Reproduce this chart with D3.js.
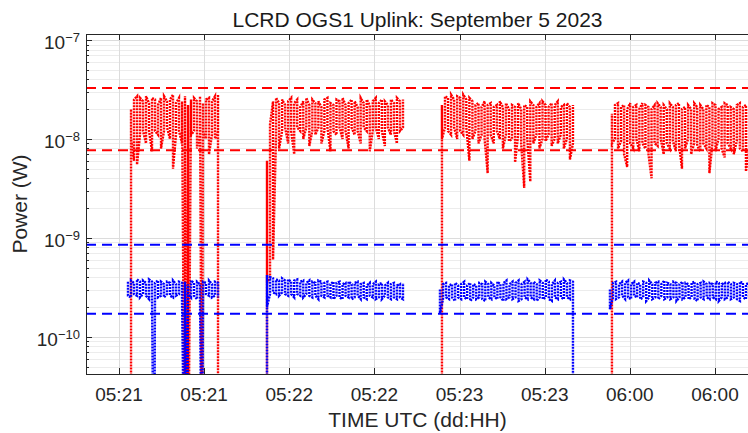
<!DOCTYPE html>
<html>
<head>
<meta charset="utf-8">
<script src="https://cdn.jsdelivr.net/npm/d3@7"></script>
<style>
body { margin: 0; background: #fff; }
svg text { font-family: Arial, "Liberation Sans", sans-serif; fill: #262626; }
</style>
</head>
<body>
<div id="chart"></div>
<script>
// all power values are in nW (1e-9 W)
var FLOOR = 0.001; // signal lost, below the axis

// segment start / end times (UTC)
var redStart  = ["2023-09-05T21:04:14Z", "2023-09-05T21:52:09Z", "2023-09-05T22:53:48Z", "2023-09-05T23:53:42Z"];
var redEnd    = ["2023-09-05T21:34:53Z", "2023-09-05T22:40:04Z", "2023-09-05T23:39:58Z", "2023-09-06T00:42:00Z"];
var blueStart = ["2023-09-05T21:03:10Z", "2023-09-05T21:52:09Z", "2023-09-05T22:53:06Z", "2023-09-05T23:53:00Z"];
var blueEnd   = ["2023-09-05T21:34:53Z", "2023-09-05T22:40:04Z", "2023-09-05T23:39:58Z", "2023-09-06T00:42:00Z"];

// does the trace come up from / fall down to zero at segment start / end
var redFromFloor  = [true, true, true, true];
var redToFloor    = [true, false, false, false];
var blueFromFloor = [false, true, false, false];
var blueToFloor   = [false, false, true, false];

// short dropouts inside a segment
var redDrops  = ["2023-09-05T21:23:15Z", "2023-09-05T21:23:47Z", "2023-09-05T21:24:19Z", "2023-09-05T21:29:15Z"];
var blueDrops = ["2023-09-05T21:12:20Z", "2023-09-05T21:23:15Z", "2023-09-05T21:24:00Z", "2023-09-05T21:29:15Z"];

// per-bin max / min of the red (higher) trace
var redMax1 = [20, 25, 27, 26, 24, 27, 23, 26, 25, 22, 26, 27, 24, 25, 28, 23, 26, 24, 27, 22, 25, 26, 24, 27, 23, 25, 26, 24, 27, 28];
var redMin1 = [10, 6, 5.5, 11, 12, 9, 12, 7.5, 12, 11, 8, 12, 13, 10, 5, 11, 12, 9, 12, 6.5, 11, 12, 8, 11, 12, 10, 7, 11, 10, 12];
var redMax2 = [6, 14, 24, 26, 23, 25, 22, 24, 26, 23, 25, 21, 24, 26, 22, 25, 23, 24, 21, 25, 26, 23, 22, 25, 24, 26, 22, 23, 25, 24, 21, 26, 23, 25, 22, 24, 26, 23, 25, 24, 22, 25, 23, 26, 24, 25];
var redMin2 = [0.35, 0.4, 0.6, 11, 8, 12, 13, 9, 12, 7, 13, 12, 10, 13, 8.5, 12, 11, 13, 9, 12, 13, 7.5, 12, 11, 13, 10, 12, 8, 13, 11, 12, 9, 13, 12, 7.5, 12, 13, 10, 12, 8.5, 13, 11, 12, 9, 12, 13];
var redMax3 = [22, 27, 26, 28, 25, 27, 26, 28, 25, 26, 24, 22, 23, 21, 24, 22, 23, 21, 22, 24, 21, 23, 20, 22, 21, 23, 20, 22, 21, 24, 22, 21, 23, 24, 22, 21, 23, 22, 24, 21, 22, 23, 21, 22];
var redMin3 = [10, 13, 12, 11, 13, 10, 12, 11, 13, 6, 10, 12, 9, 11, 10, 4.5, 11, 9, 12, 10, 8, 11, 9.5, 10, 5.8, 11, 9, 3.2, 10, 3.7, 9, 11, 8, 10, 9.5, 11, 8.5, 10, 9, 11, 8, 10, 6.2, 9];
var redMax4 = [18, 22, 23, 21, 22, 20, 23, 21, 22, 20, 23, 22, 21, 20, 22, 23, 21, 22, 20, 23, 21, 22, 23, 20, 21, 22, 20, 23, 21, 22, 20, 22, 21, 23, 22, 20, 21, 23, 22, 21, 20, 22, 23, 21, 22, 20];
var redMin4 = [9, 10, 8, 9.5, 7, 5.2, 9, 8, 10, 7.5, 9, 8, 7, 4.0, 9, 8.5, 10, 7, 9, 8, 9.5, 7.5, 9, 5, 8, 10, 7, 9, 8.5, 7.5, 9, 8, 4.5, 9, 7.5, 10, 8, 6.5, 9, 8, 7, 9.5, 8, 7.5, 4.7, 8];

// per-bin max / min of the blue (lower) trace
var blueMax1 = [0.36, 0.37, 0.35, 0.38, 0.36, 0.37, 0.35, 0.38, 0.36, 0.35, 0.37, 0.36, 0.34, 0.36, 0.35, 0.37, 0.34, 0.36, 0.35, 0.36, 0.34, 0.37, 0.35, 0.36, 0.34, 0.36, 0.35, 0.37, 0.34, 0.36, 0.35];
var blueMin1 = [0.26, 0.25, 0.27, 0.26, 0.25, 0.27, 0.26, 0.24, 0.26, 0.27, 0.25, 0.26, 0.25, 0.27, 0.26, 0.25, 0.26, 0.27, 0.25, 0.26, 0.27, 0.25, 0.26, 0.24, 0.26, 0.25, 0.27, 0.26, 0.25, 0.26, 0.25];
var blueMax2 = [0.42, 0.4, 0.39, 0.38, 0.37, 0.39, 0.37, 0.38, 0.36, 0.37, 0.38, 0.36, 0.37, 0.35, 0.37, 0.36, 0.35, 0.37, 0.36, 0.35, 0.36, 0.34, 0.36, 0.35, 0.36, 0.34, 0.35, 0.36, 0.34, 0.35, 0.36, 0.34, 0.35, 0.33, 0.35, 0.34, 0.36, 0.34, 0.35, 0.33, 0.35, 0.34, 0.35, 0.33, 0.34, 0.35];
var blueMin2 = [0.2, 0.27, 0.28, 0.27, 0.26, 0.28, 0.27, 0.26, 0.27, 0.25, 0.27, 0.26, 0.25, 0.27, 0.26, 0.25, 0.26, 0.24, 0.26, 0.25, 0.26, 0.25, 0.24, 0.26, 0.25, 0.24, 0.26, 0.25, 0.24, 0.25, 0.26, 0.24, 0.25, 0.24, 0.26, 0.25, 0.24, 0.25, 0.24, 0.26, 0.25, 0.24, 0.25, 0.24, 0.25, 0.24];
var blueMax3 = [0.3, 0.34, 0.35, 0.33, 0.34, 0.35, 0.33, 0.34, 0.36, 0.33, 0.35, 0.34, 0.33, 0.35, 0.34, 0.36, 0.34, 0.35, 0.33, 0.36, 0.34, 0.35, 0.37, 0.34, 0.36, 0.35, 0.37, 0.34, 0.36, 0.38, 0.35, 0.36, 0.34, 0.37, 0.35, 0.38, 0.36, 0.34, 0.37, 0.35, 0.36, 0.38, 0.35, 0.37, 0.36];
var blueMin3 = [0.17, 0.24, 0.25, 0.24, 0.25, 0.23, 0.25, 0.24, 0.25, 0.24, 0.23, 0.25, 0.24, 0.25, 0.24, 0.23, 0.25, 0.24, 0.25, 0.24, 0.25, 0.23, 0.24, 0.25, 0.24, 0.25, 0.23, 0.24, 0.25, 0.24, 0.25, 0.24, 0.23, 0.25, 0.24, 0.25, 0.24, 0.23, 0.25, 0.24, 0.25, 0.24, 0.25, 0.24, 0.23];
var blueMax4 = [0.3, 0.35, 0.36, 0.34, 0.36, 0.35, 0.37, 0.34, 0.36, 0.35, 0.34, 0.36, 0.35, 0.37, 0.34, 0.35, 0.36, 0.34, 0.37, 0.35, 0.34, 0.36, 0.35, 0.34, 0.36, 0.35, 0.34, 0.35, 0.36, 0.34, 0.35, 0.36, 0.34, 0.35, 0.34, 0.36, 0.35, 0.34, 0.35, 0.36, 0.34, 0.35, 0.34, 0.36, 0.35, 0.34, 0.35];
var blueMin4 = [0.19, 0.25, 0.24, 0.25, 0.26, 0.24, 0.25, 0.24, 0.26, 0.25, 0.24, 0.25, 0.23, 0.25, 0.24, 0.25, 0.24, 0.26, 0.24, 0.25, 0.24, 0.25, 0.23, 0.25, 0.24, 0.25, 0.24, 0.25, 0.24, 0.23, 0.25, 0.24, 0.25, 0.24, 0.25, 0.24, 0.23, 0.25, 0.24, 0.25, 0.24, 0.25, 0.24, 0.23, 0.25, 0.24, 0.25];

// threshold lines (nW)
var redLimits  = [32.7, 7.7];
var blueLimits = [0.85, 0.171];

var xDomain = ["2023-09-05T20:48:22Z", "2023-09-06T00:42:00Z"];
var yDomain = [4.2e-11, 1.15e-7];
var yDecades = [-10, -9, -8, -7];

var W = 748, H = 433;
// plot box (note: "top" is reserved on window, so use pl/pr/pt/pb)
var pl = 86, pr = 749, pt = 34, pb = 374;

var svg = d3.select("#chart").append("svg")
    .attr("width", W)
    .attr("height", H);

var x = d3.scaleUtc()
    .domain(xDomain.map(function(s) { return new Date(s); }))
    .range([pl, pr]);

var y = d3.scaleLog()
    .domain(yDomain)
    .range([pb, pt]);

svg.append("defs").append("clipPath")
    .attr("id", "plotclip")
    .append("rect")
    .attr("x", pl).attr("y", pt)
    .attr("width", pr - pl).attr("height", pb - pt);

var xTicks = x.ticks(d3.utcMinute.every(30));

// minor y positions
var yMinor = [];
for (var e = -11; e <= -8; e++) {
    for (var k = 2; k <= 9; k++) {
        var v = k * Math.pow(10, e);
        if (v > yDomain[0] && v < yDomain[1]) yMinor.push(v);
    }
}

function ry(v) { return Math.round(y(v)) + 0.5; }
function rx(d) { return Math.round(x(d)) + 0.5; }

// grid
var grid = svg.append("g");
grid.selectAll(".yminor").data(yMinor).enter().append("line")
    .attr("x1", pl).attr("x2", pr)
    .attr("y1", ry).attr("y2", ry)
    .style("stroke", "#ececec");
grid.selectAll(".ymajor").data(yDecades).enter().append("line")
    .attr("x1", pl).attr("x2", pr)
    .attr("y1", function(d) { return ry(Math.pow(10, d)); })
    .attr("y2", function(d) { return ry(Math.pow(10, d)); })
    .style("stroke", "#dcdcdc");
grid.selectAll(".xmajor").data(xTicks).enter().append("line")
    .attr("x1", rx).attr("x2", rx)
    .attr("y1", pt).attr("y2", pb)
    .style("stroke", "#dcdcdc");

function buildTrace(t0, t1, maxs, mins, fromFloor, toFloor, drops) {
    var a = +new Date(t0), b = +new Date(t1), n = maxs.length;
    var pts = [];
    if (fromFloor) pts.push([a, FLOOR]);
    for (var i = 0; i < n; i++) {
        var t = a + (b - a) * i / (n - 1);
        if (i % 2 == 0) { pts.push([t, maxs[i]]); pts.push([t, mins[i]]); }
        else { pts.push([t, mins[i]]); pts.push([t, maxs[i]]); }
    }
    if (toFloor) pts.push([b, FLOOR]);
    drops.forEach(function(s) {
        var td = +new Date(s);
        if (td <= a || td >= b) return;
        var k = pts.findIndex(function(p) { return p[0] > td; });
        pts.splice(k, 0, [td, FLOOR]);
    });
    return pts;
}

var line = d3.line()
    .x(function(d) { return x(new Date(d[0])); })
    .y(function(d) { return y(d[1] * 1e-9); });

var redMax = [redMax1, redMax2, redMax3, redMax4];
var redMin = [redMin1, redMin2, redMin3, redMin4];
var blueMax = [blueMax1, blueMax2, blueMax3, blueMax4];
var blueMin = [blueMin1, blueMin2, blueMin3, blueMin4];

var redTraces = redStart.map(function(s, i) {
    return buildTrace(s, redEnd[i], redMax[i], redMin[i], redFromFloor[i], redToFloor[i], redDrops);
});
var blueTraces = blueStart.map(function(s, i) {
    return buildTrace(s, blueEnd[i], blueMax[i], blueMin[i], blueFromFloor[i], blueToFloor[i], blueDrops);
});

var plot = svg.append("g").attr("clip-path", "url(#plotclip)");

plot.selectAll(".red").data(redTraces).enter().append("path")
    .attr("d", line)
    .style("fill", "none")
    .style("stroke", "#ff0000")
    .style("stroke-width", 2.4)
    .style("stroke-dasharray", "2,1");

plot.selectAll(".blue").data(blueTraces).enter().append("path")
    .attr("d", line)
    .style("fill", "none")
    .style("stroke", "#0000ff")
    .style("stroke-width", 2.4)
    .style("stroke-dasharray", "2,1");

// thresholds
plot.selectAll(".rlim").data(redLimits).enter().append("line")
    .attr("x1", pl).attr("x2", pr)
    .attr("y1", function(d) { return y(d * 1e-9); })
    .attr("y2", function(d) { return y(d * 1e-9); })
    .style("stroke", "#ff0000").style("stroke-width", 2)
    .style("stroke-dasharray", "10,6");
plot.selectAll(".blim").data(blueLimits).enter().append("line")
    .attr("x1", pl).attr("x2", pr)
    .attr("y1", function(d) { return y(d * 1e-9); })
    .attr("y2", function(d) { return y(d * 1e-9); })
    .style("stroke", "#0000ff").style("stroke-width", 2)
    .style("stroke-dasharray", "10,6");

// axes box
var ax = svg.append("g").style("stroke", "#262626").style("fill", "none");
ax.append("line").attr("x1", pl + 0.5).attr("x2", pl + 0.5).attr("y1", pt).attr("y2", pb + 1);
ax.append("line").attr("x1", pl).attr("x2", pr).attr("y1", pb + 0.5).attr("y2", pb + 0.5);
ax.append("line").attr("x1", pl).attr("x2", pr).attr("y1", pt + 0.5).attr("y2", pt + 0.5);

// inward ticks
ax.selectAll(".ytm").data(yMinor).enter().append("line")
    .attr("x1", pl).attr("x2", pl + 3)
    .attr("y1", ry).attr("y2", ry);
ax.selectAll(".ytM").data(yDecades).enter().append("line")
    .attr("x1", pl).attr("x2", pl + 6)
    .attr("y1", function(d) { return ry(Math.pow(10, d)); })
    .attr("y2", function(d) { return ry(Math.pow(10, d)); });
ax.selectAll(".xtb").data(xTicks).enter().append("line")
    .attr("x1", rx).attr("x2", rx)
    .attr("y1", pb).attr("y2", pb - 6);
ax.selectAll(".xtt").data(xTicks).enter().append("line")
    .attr("x1", rx).attr("x2", rx)
    .attr("y1", pt).attr("y2", pt + 6);

// tick labels
var fmt = d3.utcFormat("%d:%H");
svg.selectAll(".xlab").data(xTicks).enter().append("text")
    .attr("x", function(d) { return x(d); })
    .attr("y", 401)
    .attr("text-anchor", "middle")
    .style("font-size", "19px")
    .text(function(d) { return fmt(d); });

var ylab = svg.selectAll(".ylab").data(yDecades).enter().append("text")
    .attr("x", 80)
    .attr("y", function(d) { return y(Math.pow(10, d)) + 9; })
    .attr("text-anchor", "end")
    .style("font-size", "19px");
ylab.append("tspan").text("10");
ylab.append("tspan")
    .attr("dy", -7)
    .style("font-size", "13px")
    .text(function(d) { return "\u2212" + Math.abs(d); });

// titles
svg.append("text")
    .attr("x", (pl + pr) / 2)
    .attr("y", 27)
    .attr("text-anchor", "middle")
    .style("font-size", "21px")
    .style("fill", "#1a1a1a")
    .text("LCRD OGS1 Uplink: September 5 2023");

svg.append("text")
    .attr("x", (pl + pr) / 2)
    .attr("y", 427)
    .attr("text-anchor", "middle")
    .style("font-size", "21px")
    .text("TIME UTC (dd:HH)");

svg.append("text")
    .attr("transform", "translate(27," + ((pt + pb) / 2) + ") rotate(-90)")
    .attr("text-anchor", "middle")
    .style("font-size", "21px")
    .text("Power (W)");
</script>
</body>
</html>
